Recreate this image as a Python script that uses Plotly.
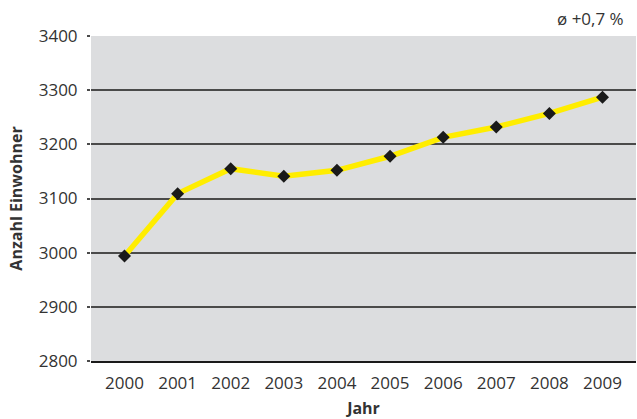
import plotly.graph_objects as go

years = ["2000", "2001", "2002", "2003", "2004", "2005", "2006", "2007", "2008", "2009"]
einwohner = [2994, 3109, 3155, 3141, 3152, 3178, 3213, 3232, 3257, 3287]
y_ticks = [2800, 2900, 3000, 3100, 3200, 3300, 3400]

font_family = "Open Sans, Noto Sans, sans-serif"
text_color = "#333333"

fig = go.Figure()
fig.add_trace(go.Scatter(
    x=years, y=einwohner, mode="lines+markers",
    line=dict(color="#ffed00", width=5.5),
    marker=dict(symbol="diamond", size=10, color="#1a1a1a"),
    cliponaxis=False,
))

fig.update_layout(
    width=637, height=419,
    margin=dict(l=91, r=1, t=36, b=58),
    paper_bgcolor="white",
    plot_bgcolor="#dcdddf",
    showlegend=False,
    font=dict(family=font_family, size=17, color=text_color),
    xaxis=dict(
        type="category",
        showgrid=False,
        showline=True,
        linecolor="#1a1a1a",
        linewidth=1.5,
        ticks="",
        ticklabelstandoff=6,
        tickfont=dict(size=17, color=text_color),
        title=dict(text="<b>Jahr</b>", font=dict(size=16, color=text_color), standoff=10),
    ),
    yaxis=dict(
        range=[2800, 3400],
        tickvals=y_ticks,
        showgrid=True,
        gridcolor="#4a4a4a",
        gridwidth=1.5,
        zeroline=False,
        showline=False,
        ticks="outside",
        ticklen=3,
        tickcolor="#4a4a4a",
        tickwidth=1.5,
        ticklabelstandoff=6,
        tickfont=dict(size=17, color=text_color),
        title=dict(text="<b>Anzahl Einwohner</b>", font=dict(size=16, color=text_color), standoff=12),
    ),
    annotations=[
        dict(text="<b>Bevölkerungsentwicklung 2000–2009</b>", xref="paper", yref="paper",
             x=-83 / 545, y=(361 - 2) / 325, xanchor="left", yanchor="bottom",
             showarrow=False, font=dict(size=14, color=text_color)),
        dict(text="ø +0,7 %", xref="paper", yref="paper",
             x=(626 - 91) / 545, y=(361 - 18) / 325, xanchor="right", yanchor="middle",
             showarrow=False, font=dict(size=17, color=text_color)),
    ],
)

fig.write_html("out.html", config={"displayModeBar": False},
               post_script="document.body.style.margin='0px';")
